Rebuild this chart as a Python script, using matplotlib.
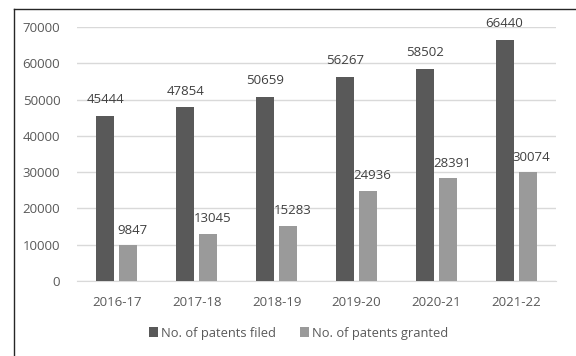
import matplotlib
matplotlib.use("Agg")
import matplotlib.pyplot as plt
import numpy as np
from matplotlib.lines import Line2D
from matplotlib.patches import Patch

categories = ["2016-17", "2017-18", "2018-19", "2019-20", "2020-21", "2021-22"]
filed = [45444, 47854, 50659, 56267, 58502, 66440]
granted = [9847, 13045, 15283, 24936, 28391, 30074]
series_names = ["No. of patents filed", "No. of patents granted"]

plt.rcParams['font.family'] = ['Open Sans', 'DejaVu Sans']
txt = '#595959'
c_filed = '#595959'
c_granted = '#9a9a9a'

fig = plt.figure(figsize=(5.76, 3.56), dpi=100)
ax = fig.add_axes([77/576, 1-281/356, (556-77)/576, (281-27)/356])

x = np.arange(len(categories))
bw = 0.225
off = 0.144
b1 = ax.bar(x - off, filed, bw, color=c_filed, zorder=3)
b2 = ax.bar(x + off, granted, bw, color=c_granted, zorder=3)
for rect, v in zip(b1, filed):
    ax.annotate(str(v), (rect.get_x() + rect.get_width()/2, v), xytext=(0, 7),
                textcoords='offset points', ha='center', va='bottom', fontsize=9.5, color='#404040')
for rect, v in zip(b2, granted):
    ax.annotate(str(v), (rect.get_x() + rect.get_width()/2, v), xytext=(3, 6),
                textcoords='offset points', ha='center', va='bottom', fontsize=9.5, color='#404040')

ax.set_xlim(-0.5, len(categories) - 0.5)
ax.set_ylim(0, 70000)
ax.set_yticks(np.arange(0, 70001, 10000))
ax.set_xticks(x)
ax.set_xticklabels(categories)
ax.yaxis.grid(True, color='#d9d9d9', linewidth=1, zorder=0)
ax.set_axisbelow(True)
for s in ['top', 'right', 'left']:
    ax.spines[s].set_visible(False)
ax.spines['bottom'].set_color('#d9d9d9')
ax.tick_params(axis='both', length=0, labelsize=9.5, labelcolor=txt)
ax.tick_params(axis='x', pad=11)
ax.tick_params(axis='y', pad=12)

handles = [Patch(facecolor=c_filed), Patch(facecolor=c_granted)]
fig.legend(handles, series_names, loc='center', bbox_to_anchor=(298.5/576, 1-333/356),
           ncol=2, frameon=False, fontsize=9.3, labelcolor=txt,
           handlelength=0.7, handleheight=0.7, handletextpad=0.25, columnspacing=1.8)

# outer frame (extends past right and bottom)
fig.add_artist(Line2D([14/576, 14/576], [0, 1-9/356], transform=fig.transFigure, color='#262626', linewidth=1))
fig.add_artist(Line2D([14/576, 1], [1-9/356, 1-9/356], transform=fig.transFigure, color='#262626', linewidth=1))

fig.savefig("out.png", dpi=100)
